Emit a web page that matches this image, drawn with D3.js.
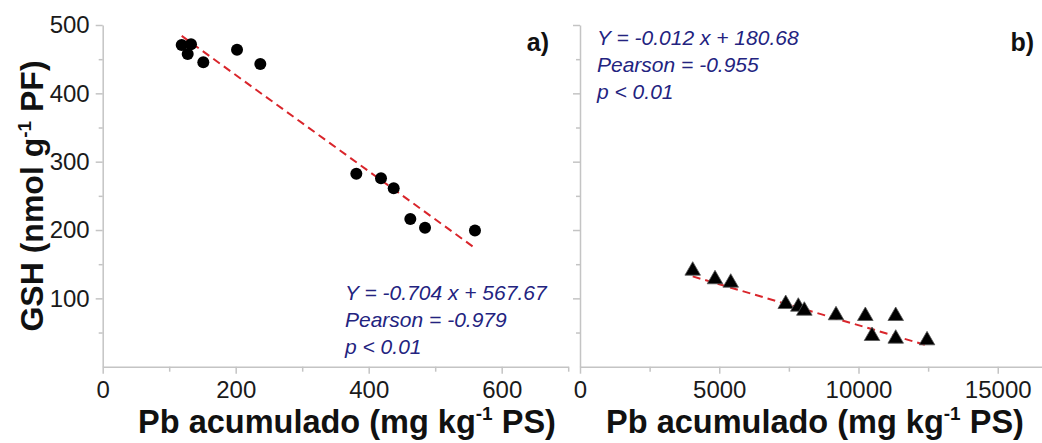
<!DOCTYPE html>
<html>
<head>
<meta charset="utf-8">
<script src="https://cdn.jsdelivr.net/npm/d3@7"></script>
<style>
  body { margin: 0; background: #fff; }
  svg { display: block; }
  text { font-family: "Liberation Sans", Arial, sans-serif; }
</style>
</head>
<body>
<svg id="chart" width="1042" height="443"></svg>
<script>
// ---- Data ----
const leadA = [118.8, 132.8, 127.8, 151.3, 202, 237, 381.4, 418.5, 437.6, 462.6, 484.7, 559.8];
const gshA  = [470.7, 472, 457.6, 445.4, 463.9, 443, 282.4, 275.7, 261, 216, 203.4, 199.2];
const leadB = [4047, 4848, 5412, 7387, 7839, 8055, 9193, 10245, 11337, 10486, 11337, 12461];
const gshB  = [140.5, 127.9, 122.9, 91.7, 87.8, 81.9, 75.2, 74.2, 74.2, 44.9, 41, 38.6];
const fitA = { slope: -0.704, intercept: 567.67 };
const fitB = { slope: -0.012, intercept: 180.68 };
const annotA = ["Y = -0.704 x + 567.67", "Pearson = -0.979", "p < 0.01"];
const annotB = ["Y = -0.012 x + 180.68", "Pearson = -0.955", "p < 0.01"];
const yTicks = [100, 200, 300, 400, 500];
const yMinor = [50, 150, 250, 350, 450];
const xTicksA = [0, 200, 400, 600];
const xMinorA = [100, 300, 500, 700];
const xTicksB = [0, 5000, 10000, 15000];
const xMinorB = [2500, 7500, 12500];

const svg = d3.select("#chart");
const axisColor = "#c4c4c4";
const annotColor = "#23237f";

const y = d3.scaleLinear().domain([0, 500]).range([366.7, 25]);
const xA = d3.scaleLinear().domain([0, 700]).range([102.7, 568.2]);
const xB = d3.scaleLinear().domain([0, 16600]).range([580, 1042.3]);

function styleAxis(g) {
  g.selectAll("path.domain").attr("stroke", axisColor).attr("stroke-width", 1.5);
  g.selectAll(".tick line").attr("stroke", axisColor).attr("stroke-width", 1.5);
  g.selectAll(".tick text").attr("fill", "#1a1a1a")
    .style("font-family", '"Liberation Sans", Arial, sans-serif').style("font-size", "24px");
}

function drawPanel(x, xt, xm, showY) {
  // minor ticks
  svg.append("g").attr("transform", `translate(0,${y(0)})`)
    .call(d3.axisBottom(x).tickValues(xm).tickSize(5).tickFormat("").tickSizeOuter(0))
    .call(styleAxis).select("path.domain").remove();
  svg.append("g").attr("transform", `translate(${x(0)},0)`)
    .call(d3.axisLeft(y).tickValues(yMinor).tickSize(4).tickFormat("").tickSizeOuter(0))
    .call(styleAxis).select("path.domain").remove();
  // major
  svg.append("g").attr("transform", `translate(0,${y(0)})`)
    .call(d3.axisBottom(x).tickValues(xt).tickFormat(d3.format("d")).tickSize(7).tickPadding(7).tickSizeOuter(0))
    .call(styleAxis);
  const ya = svg.append("g").attr("transform", `translate(${x(0)},0)`)
    .call(d3.axisLeft(y).tickValues(yTicks).tickFormat(d3.format("d")).tickSize(7).tickPadding(6).tickSizeOuter(0))
    .call(styleAxis);
  if (!showY) ya.selectAll(".tick text").remove();
}

drawPanel(xA, xTicksA, xMinorA, true);
drawPanel(xB, xTicksB, xMinorB, false);

// regression lines
const lineA = d3.extent(leadA);
svg.append("line")
  .attr("x1", xA(lineA[0])).attr("y1", y(fitA.slope * lineA[0] + fitA.intercept))
  .attr("x2", xA(lineA[1] + 2)).attr("y2", y(fitA.slope * (lineA[1] + 2) + fitA.intercept))
  .attr("stroke", "#d9252b").attr("stroke-width", 2).attr("stroke-dasharray", "8,5");
const lineB = d3.extent(leadB);
svg.append("line")
  .attr("x1", xB(lineB[0])).attr("y1", y(fitB.slope * lineB[0] + fitB.intercept))
  .attr("x2", xB(lineB[1])).attr("y2", y(fitB.slope * lineB[1] + fitB.intercept))
  .attr("stroke", "#d9252b").attr("stroke-width", 2).attr("stroke-dasharray", "8,5");

// points
svg.append("g").selectAll("circle").data(leadA.map((d, i) => [d, gshA[i]])).join("circle")
  .attr("cx", d => xA(d[0])).attr("cy", d => y(d[1])).attr("r", 6).attr("fill", "#000");
const tri = d3.symbol().type(d3.symbolTriangle).size(105);
svg.append("g").selectAll("path").data(leadB.map((d, i) => [d, gshB[i]])).join("path")
  .attr("d", tri).attr("transform", d => `translate(${xB(d[0])},${y(d[1])})`)
  .attr("fill", "#000").attr("stroke", "#555").attr("stroke-width", 0.8);

// annotations
function annot(lines, x0, y0) {
  svg.append("g").selectAll("text").data(lines).join("text")
    .attr("x", x0).attr("y", (d, i) => y0 + i * 27)
    .attr("fill", annotColor).style("font-style", "italic").style("font-size", "21px")
    .text(d => d);
}
annot(annotA, 345, 300);
annot(annotB, 597, 45);

// panel labels
svg.append("text").attr("x", 549).attr("y", 51).attr("text-anchor", "end")
  .style("font-weight", "bold").style("font-size", "25px").attr("fill", "#111").text("a)");
svg.append("text").attr("x", 1034).attr("y", 51).attr("text-anchor", "end")
  .style("font-weight", "bold").style("font-size", "25px").attr("fill", "#111").text("b)");

// axis titles
function xTitle(cx) {
  const t = svg.append("text").attr("x", cx).attr("y", 433).attr("text-anchor", "middle")
    .style("font-weight", "bold").style("font-size", "32.5px").attr("fill", "#111");
  t.append("tspan").text("Pb acumulado (mg kg");
  t.append("tspan").attr("dy", -13).style("font-size", "19px").text("-1");
  t.append("tspan").attr("dy", 13).text(" PS)");
}
xTitle(347);
xTitle(815);

const yt = svg.append("text").attr("transform", "translate(43,196) rotate(-90)")
  .attr("text-anchor", "middle").style("font-weight", "bold").style("font-size", "32px").attr("fill", "#111");
yt.append("tspan").text("GSH (nmol g");
yt.append("tspan").attr("dy", -12).style("font-size", "19px").text("-1");
yt.append("tspan").attr("dy", 12).text(" PF)");
</script>
</body>
</html>
